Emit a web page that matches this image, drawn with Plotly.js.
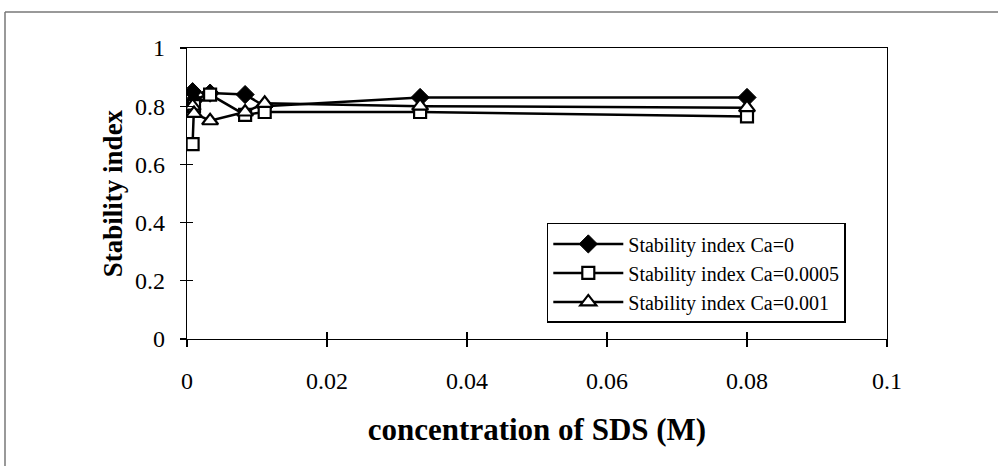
<!DOCTYPE html>
<html>
<head>
<meta charset="utf-8">
<script src="https://cdn.plot.ly/plotly-3.0.1.min.js"></script>
<style>html,body{margin:0;padding:0;background:#fff;}#chart{width:998px;height:466px;}</style>
</head>
<body>
<div id="chart"></div>
<script>
// concentration of SDS (M)
const sdsConc = [0.0008, 0.001, 0.0033, 0.0083, 0.0111, 0.0333, 0.08];
const seriesNames = ["Stability index Ca=0", "Stability index Ca=0.0005", "Stability index Ca=0.001"];
const stabCa0 = [0.85, 0.82, 0.845, 0.84, 0.80, 0.83, 0.83];
const stabCa00005 = [0.67, 0.80, 0.84, 0.77, 0.78, 0.78, 0.765];
const stabCa0001 = [0.80, 0.775, 0.75, 0.78, 0.81, 0.80, 0.795];
const xTicks = [0, 0.02, 0.04, 0.06, 0.08, 0.1];
const xTickText = ["0", "0.02", "0.04", "0.06", "0.08", "0.1"];
const yTicks = [0, 0.2, 0.4, 0.6, 0.8, 1];
const yTickText = ["0", "0.2", "0.4", "0.6", "0.8", "1"];

const font = "Liberation Serif, Times New Roman, serif";
const lineStyle = {color: "#000", width: 2.5};

const traces = [
  {x: sdsConc, y: stabCa0, name: seriesNames[0], mode: "lines+markers", line: lineStyle,
   marker: {symbol: "diamond", size: 14, color: "#000", line: {color: "#000", width: 1}}},
  {x: sdsConc, y: stabCa00005, name: seriesNames[1], mode: "lines+markers", line: lineStyle,
   marker: {symbol: "square", size: 12, color: "#fff", line: {color: "#000", width: 2.2}}},
  {x: sdsConc, y: stabCa0001, name: seriesNames[2], mode: "lines+markers", line: lineStyle,
   marker: {symbol: "triangle-up", size: 14, color: "#fff", line: {color: "#000", width: 2.2}}},
  {x: [], y: [], xaxis: "x2", yaxis: "y2", showlegend: false, hoverinfo: "skip"}
];

const layout = {
  width: 998, height: 466,
  margin: {l: 187, r: 111, t: 48, b: 127},
  paper_bgcolor: "#fff", plot_bgcolor: "#fff",
  font: {family: font, color: "#000", size: 24},
  showlegend: true,
  legend: {x: 0.514, y: 0.227, xanchor: "left", yanchor: "middle",
           bgcolor: "#fff", bordercolor: "#000", borderwidth: 1.5,
           font: {family: font, size: 20, color: "#000"}, tracegroupgap: 0,
           itemwidth: 70},
  xaxis: {range: [0, 0.1], tickvals: xTicks, ticktext: xTickText,
          showgrid: false, zeroline: false, showline: true, linecolor: "#000", linewidth: 1.3,
          mirror: true, ticks: "outside", ticklen: 7, tickcolor: "#000", tickwidth: 1.3,
          ticklabelstandoff: 13, tickfont: {family: font, size: 24},
          title: {text: "<b>concentration of SDS (M)</b>", font: {family: font, size: 31}, standoff: 25}},
  yaxis: {range: [0, 1], tickvals: yTicks, ticktext: yTickText,
          showgrid: false, zeroline: false, showline: true, linecolor: "#000", linewidth: 1.3,
          mirror: true, ticks: "outside", ticklen: 6, tickcolor: "#000", tickwidth: 1.3,
          ticklabelstandoff: 10, tickfont: {family: font, size: 24},
          title: {text: "<b>Stability index</b>", font: {family: font, size: 27}, standoff: 4}},
  xaxis2: {range: [0, 0.1], tickvals: xTicks, overlaying: "x", anchor: "y", side: "bottom",
           showticklabels: false, ticks: "inside", ticklen: 7, tickcolor: "#000", tickwidth: 1.3,
           showgrid: false, zeroline: false, showline: false},
  yaxis2: {range: [0, 1], tickvals: yTicks, overlaying: "y", anchor: "x", side: "left",
           showticklabels: false, ticks: "inside", ticklen: 6, tickcolor: "#000", tickwidth: 1.3,
           showgrid: false, zeroline: false, showline: false},
  shapes: [
    {type: "line", xref: "paper", yref: "paper", x0: -0.26, x1: -0.26, y0: -0.6, y1: 1.1237,
     line: {color: "#777", width: 1.5}},
    {type: "line", xref: "paper", yref: "paper", x0: -0.26, x1: 1.17, y0: 1.1237, y1: 1.1237,
     line: {color: "#777", width: 1.5}}
  ]
};

Plotly.newPlot("chart", traces, layout, {displayModeBar: false, staticPlot: true});
</script>
</body>
</html>
